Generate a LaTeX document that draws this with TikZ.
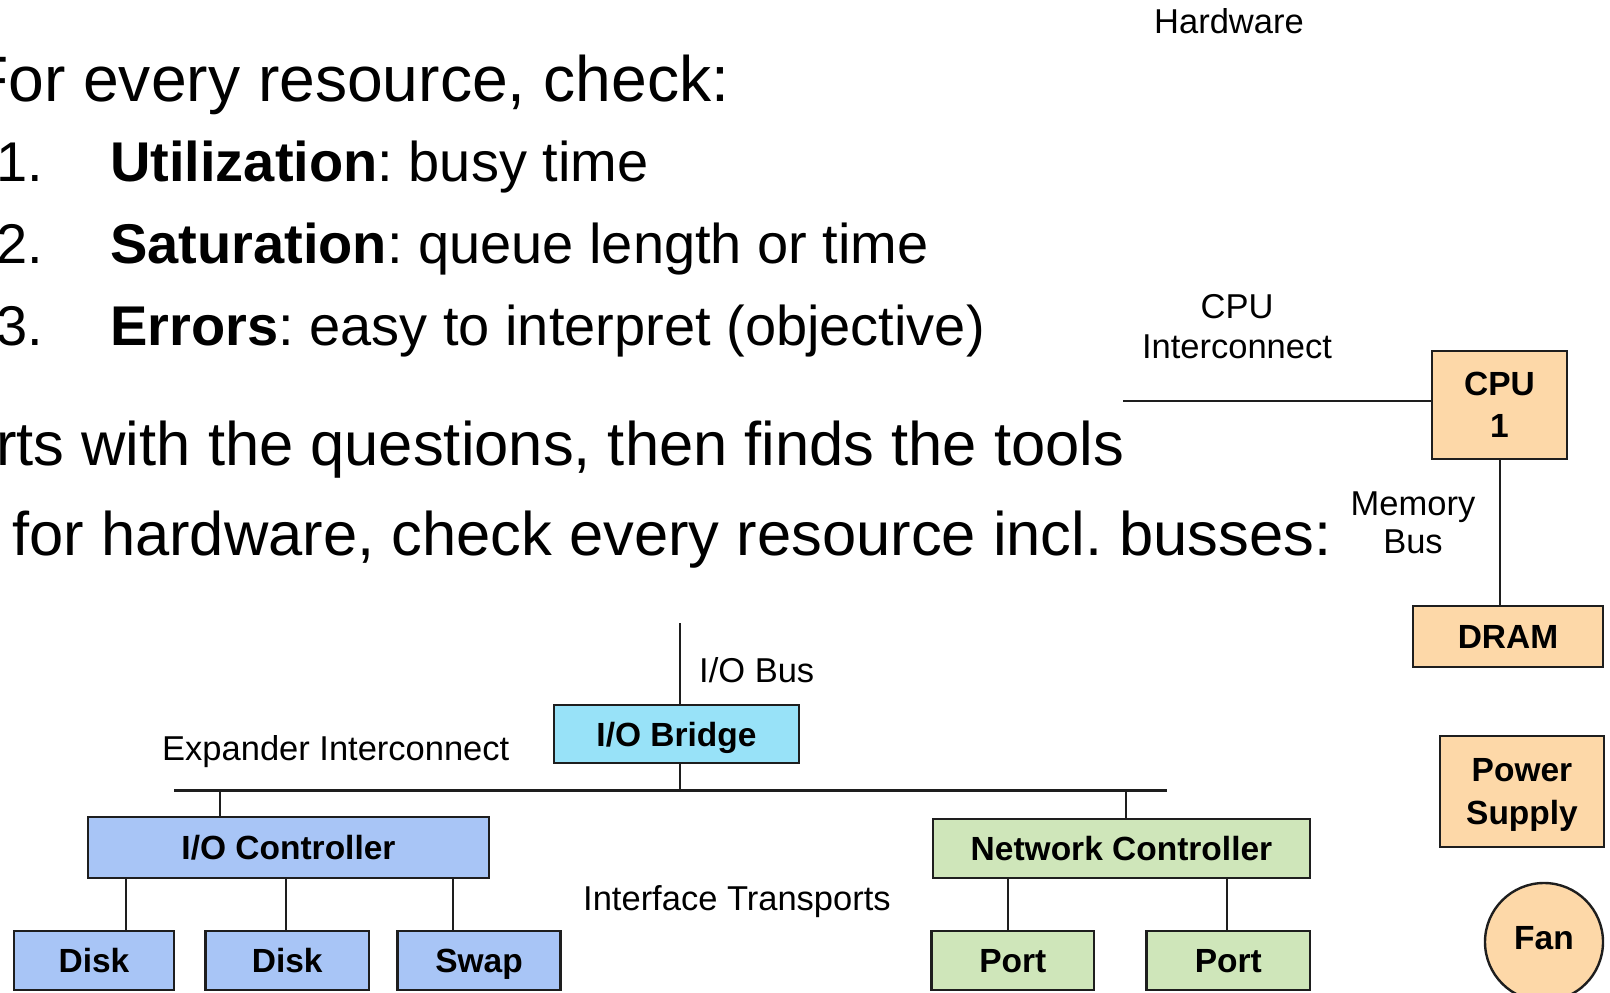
\documentclass[tikz,border=0pt]{standalone}
\usepackage{fontspec}
\setmainfont{Liberation Sans}
\frenchspacing
\definecolor{cpuorange}{RGB}{253,216,168}
\definecolor{bridgecyan}{RGB}{152,226,248}
\definecolor{storeblue}{RGB}{168,197,246}
\definecolor{netgreen}{RGB}{207,230,186}
\definecolor{ink}{RGB}{30,30,30}

\tikzset{
  hwbox/.style={draw=ink, line width=2.4pt, inner sep=0pt, rectangle,
    font=\fontsize{33.5}{42}\selectfont\bfseries, text height=24pt, text depth=0pt},
  hwbox2/.style={draw=ink, line width=2.4pt, inner sep=0pt, rectangle, align=center,
    font=\fontsize{33.5}{42.5}\selectfont\bfseries},
  wire/.style={draw=ink, line width=2pt},
  busline/.style={draw=ink, line width=3pt},
  lbl/.style={font=\fontsize{34.5}{40}\selectfont, anchor=base, inner sep=0pt},
  lblw/.style={font=\fontsize{34.5}{40}\selectfont, anchor=base west, inner sep=0pt},
  bigtext/.style={font=\fontsize{61.5}{70}\selectfont, anchor=base west, inner sep=0pt},
  headtext/.style={font=\fontsize{64.2}{72}\selectfont, anchor=base west, inner sep=0pt},
  itemtext/.style={font=\fontsize{56}{64}\selectfont, anchor=base west, inner sep=0pt},
}

\begin{document}
\begin{tikzpicture}[x=1pt, y=-1pt]
\useasboundingbox (0,0) rectangle (1610,993);

% --- slide text -----------------------------------------------------
\node[headtext] (l0) at (-31,101) {For every resource, check:};
\node[itemtext] (n1) at (-4,181) {1.};
\node[itemtext] (t1) at (110,181) {\textbf{Utilization}: busy time};
\node[itemtext] (n2) at (-4,263) {2.};
\node[itemtext] (t2) at (110,263) {\textbf{Saturation}: queue length or time};
\node[itemtext] (n3) at (-4,345) {3.};
\node[itemtext] (t3) at (110,345) {\textbf{Errors}: easy to interpret (objective)};
\node[bigtext] (l4) at (-4,465) {rts with the questions, then finds the tools};
\node[bigtext] (l5) at (12,555) {for hardware, check every resource incl. busses:};

% --- hardware diagram: labels ----------------------------------------
\node[lbl] (hwtitle) at (1229,34) {Hardware};
\node[lbl] (cpuic1) at (1237,318) {CPU};
\node[lbl] (cpuic2) at (1237,358) {Interconnect};
\node[lbl] (membus1) at (1413,515) {Memory};
\node[lbl] (membus2) at (1413,553) {Bus};
\node[lblw] (iobuslbl) at (699,682) {I/O Bus};
\node[lblw] (explbl) at (162,760) {Expander Interconnect};
\node[lblw] (iflbl) at (583,910) {Interface Transports};

% --- components ------------------------------------------------------
\node[hwbox2, fill=cpuorange, minimum width=135pt, minimum height=108pt] (cpu) at (1499.5,405) {CPU\\1};
\node[hwbox, fill=cpuorange, minimum width=190pt, minimum height=61pt] (dram) at (1508,636.5) {DRAM};
\node[hwbox2, fill=cpuorange, minimum width=164pt, minimum height=111pt, text depth=0pt] (psu) at (1522,791.5) {Power\\Supply};
\node[hwbox, circle, fill=cpuorange, minimum size=118pt, text height=15pt] (fan) at (1544,942) {Fan};

\node[hwbox, fill=bridgecyan, minimum width=245pt, minimum height=58pt] (bridge) at (676.5,734) {I/O Bridge};
\node[hwbox, fill=storeblue, minimum width=401pt, minimum height=61pt] (ioc) at (288.5,847.5) {I/O Controller};
\node[hwbox, fill=storeblue, minimum width=160pt, minimum height=59pt] (disk1) at (94,960.5) {Disk};
\node[hwbox, fill=storeblue, minimum width=163.5pt, minimum height=59pt] (disk2) at (287.25,960.5) {Disk};
\node[hwbox, fill=storeblue, minimum width=163pt, minimum height=59pt] (swap) at (479,960.5) {Swap};
\node[hwbox, fill=netgreen, minimum width=377pt, minimum height=59pt] (nc) at (1121.5,848.5) {Network Controller};
\node[hwbox, fill=netgreen, minimum width=162.5pt, minimum height=59pt] (port1) at (1012.75,960.5) {Port};
\node[hwbox, fill=netgreen, minimum width=163.5pt, minimum height=59pt] (port2) at (1228.25,960.5) {Port};

% --- connection points -----------------------------------------------
\coordinate (cpuicend) at (1123,400.7);
\coordinate (iobustop) at (680,623);
\coordinate (busL) at (174,790);
\coordinate (busR) at (1167,790);
\coordinate (ioctap) at (220,0);
\coordinate (nctap) at (1125.5,0);
\coordinate (d1tap) at (125.5,0);
\coordinate (d2tap) at (286,0);
\coordinate (swtap) at (453,0);
\coordinate (p1tap) at (1008,0);
\coordinate (p2tap) at (1227,0);

% --- connectors ------------------------------------------------------
\draw[wire] (cpuicend) -- (cpuicend -| cpu.west);
\draw[wire] (cpu.south) -- (cpu.south |- dram.north);
\draw[wire] (iobustop) -- (iobustop |- bridge.north);
\draw[wire] (iobustop |- bridge.south) -- (iobustop |- busL);
\draw[busline] (busL) -- (busR);
\draw[wire] (ioctap |- busL) -- (ioctap |- ioc.north);
\draw[wire] (nctap |- busR) -- (nctap |- nc.north);
\draw[wire] (d1tap |- ioc.south) -- (d1tap |- disk1.north);
\draw[wire] (d2tap |- ioc.south) -- (d2tap |- disk2.north);
\draw[wire] (swtap |- ioc.south) -- (swtap |- swap.north);
\draw[wire] (p1tap |- nc.south) -- (p1tap |- port1.north);
\draw[wire] (p2tap |- nc.south) -- (p2tap |- port2.north);
\end{tikzpicture}
\end{document}
